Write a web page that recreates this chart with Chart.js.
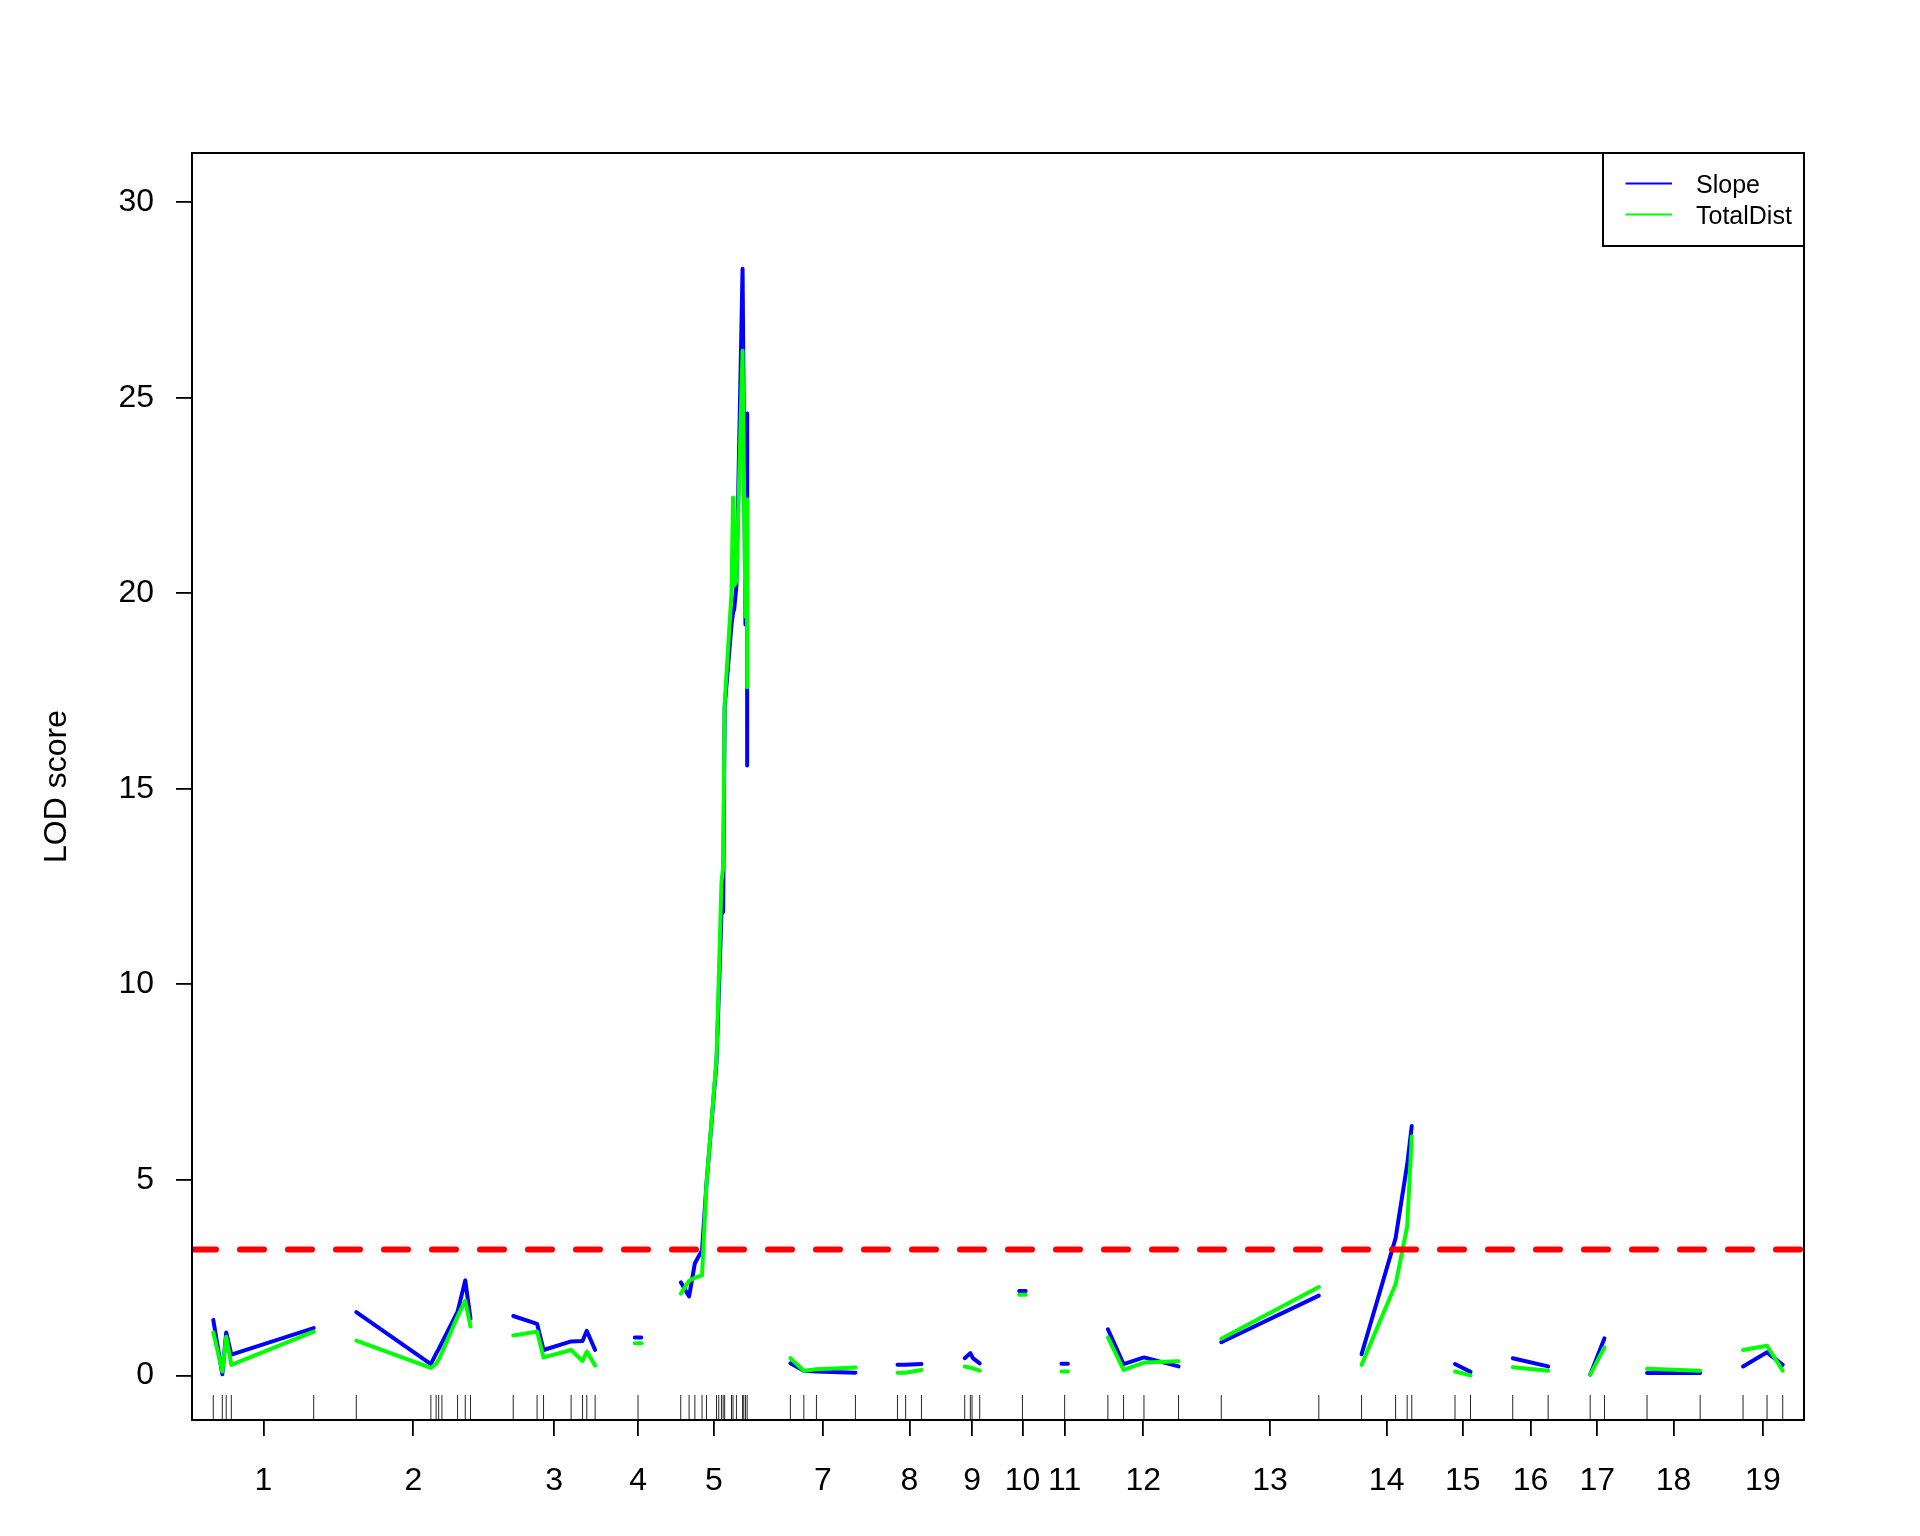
<!DOCTYPE html>
<html>
<head>
<meta charset="utf-8">
<script src="https://cdn.jsdelivr.net/npm/chart.js@4.4.1/dist/chart.umd.min.js"></script>
<style>
  html, body { margin: 0; padding: 0; background: #ffffff; }
  #wrap { width: 1920px; height: 1536px; position: relative; }
</style>
</head>
<body>
<div id="wrap"><canvas id="c" width="1920" height="1536"></canvas></div>
<script>
// ---------------- data (genome-wide cM positions, LOD scores) ----------------
const chromosomes = ['1','2','3','4','5','7','8','9','10','11','12','13','14','15','16','17','18','19'];

const markerPos = [
  [0, 5.3, 7.6, 10.6, 59.0],
  [84.0, 127.8, 130.9, 132.4, 134.3, 143.5, 148.0, 151.1],
  [176.2, 190.2, 194.0, 210.2, 216.9, 219.4, 224.3],
  [249.5],
  [274.6, 279.5, 282.9, 287.1, 289.7, 295.6, 296.9, 298.5, 299.5, 300.4, 304.4, 305.3, 307.3, 310.9, 311.6, 312.6, 313.6],
  [339.0, 346.9, 354.3, 377.2],
  [401.9, 406.7, 416.0],
  [441.4, 444.7, 445.7, 450.2],
  [475.3],
  [500.1],
  [525.5, 534.7, 546.7, 567.0],
  [592.1, 649.4],
  [674.5, 694.5, 701.3, 704.0],
  [729.4, 738.5],
  [763.3, 784.1],
  [808.8, 817.2],
  [842.2, 873.4],
  [898.6, 912.7, 921.9]
];

const linePos = [
  [0, 5.3, 7.6, 10.6, 59.0],
  [84.0, 127.8, 130.9, 132.4, 134.3, 143.5, 148.0, 151.1],
  [176.2, 190.2, 194.0, 210.2, 216.9, 219.4, 224.3],
  [247.6, 251.4],
  [274.6, 279.5, 282.9, 287.1, 289.7, 295.6, 298.5, 299.5, 300.4, 304.4, 305.3, 306.0, 307.3, 310.9, 312.6, 313.55, 313.6],
  [339.0, 346.9, 354.3, 377.2],
  [401.9, 406.7, 416.0],
  [441.4, 444.7, 446.2, 450.2],
  [473.4, 477.2],
  [498.2, 502.0],
  [525.5, 534.7, 546.7, 567.0],
  [592.1, 649.4],
  [674.5, 694.5, 701.3, 704.0],
  [729.4, 738.5],
  [763.3, 784.1],
  [808.8, 817.2],
  [842.2, 873.4],
  [898.6, 912.7, 921.9]
];

const slopeLOD = [
  [1.42, 0.03, 1.10, 0.53, 1.21],
  [1.62, 0.29, 0.56, 0.67, 0.84, 1.63, 2.43, 1.45],
  [1.52, 1.32, 0.65, 0.87, 0.88, 1.14, 0.65],
  [0.97, 0.97],
  [2.38, 2.02, 2.87, 3.2, 4.9, 8.0, 11.8, 11.85, 17.1, 19.2, 19.5, 19.6, 20.2, 28.3, 19.2, 24.6, 15.6],
  [0.31, 0.12, 0.10, 0.07],
  [0.27, 0.27, 0.29],
  [0.44, 0.57, 0.44, 0.31],
  [2.16, 2.16],
  [0.30, 0.30],
  [1.18, 0.29, 0.46, 0.23],
  [0.85, 2.04],
  [0.54, 3.51, 5.39, 6.38],
  [0.29, 0.09],
  [0.44, 0.23],
  [0.02, 0.95],
  [0.06, 0.06],
  [0.23, 0.59, 0.27]
];

const totalDistLOD = [
  [1.10, 0.10, 0.99, 0.27, 1.12],
  [0.89, 0.19, 0.30, 0.40, 0.58, 1.51, 1.91, 1.25],
  [1.02, 1.12, 0.46, 0.65, 0.37, 0.61, 0.25],
  [0.82, 0.82],
  [2.09, 2.42, 2.50, 2.56, 4.9, 8.1, 12.6, 13.0, 17.2, 20.0, 22.45, 20.2, 20.3, 26.2, 19.4, 22.4, 17.6],
  [0.44, 0.12, 0.16, 0.20],
  [0.07, 0.07, 0.14],
  [0.23, 0.20, 0.18, 0.12],
  [2.06, 2.06],
  [0.10, 0.10],
  [0.97, 0.14, 0.33, 0.36],
  [0.94, 2.26],
  [0.27, 2.33, 3.81, 6.11],
  [0.10, 0.0],
  [0.21, 0.12],
  [0.02, 0.72],
  [0.17, 0.12],
  [0.65, 0.76, 0.12]
];

const seriesNames = ['Slope', 'TotalDist'];
const yTicks = [0, 5, 10, 15, 20, 25, 30];
const threshold = 3.22;
const xRange = [-12.5, 934.4];
const yRange = [-1.14, 31.26];
const rugTop = -0.5;

// ---------------- build datasets ----------------
function buildSeries(vals) {
  const out = [];
  linePos.forEach((p, i) => {
    p.forEach((x, j) => out.push({ x: x, y: vals[i][j] }));
    out.push({ x: p[p.length - 1], y: null });
  });
  return out;
}
const rugData = [];
markerPos.flat().forEach(x => {
  rugData.push({ x: x, y: yRange[0] }, { x: x, y: rugTop }, { x: x, y: null });
});
const chrMid = markerPos.map(p => (Math.min(...p) + Math.max(...p)) / 2);

const FONT = '"Liberation Sans", Arial, Helvetica, sans-serif';
Chart.defaults.font.family = FONT;
Chart.defaults.color = '#000';

const framePlugin = {
  id: 'frame',
  afterDraw(chart) {
    const { ctx, chartArea: a } = chart;
    ctx.save();
    ctx.strokeStyle = '#000';
    ctx.lineWidth = 2;
    ctx.strokeRect(a.left, a.top, a.right - a.left, a.bottom - a.top);
    // legend box (R style, inside top-right)
    const w = 201, h = 93;
    const x0 = a.right - w, y0 = a.top;
    ctx.fillStyle = '#fff';
    ctx.fillRect(x0, y0, w, h);
    ctx.strokeRect(x0, y0, w, h);
    const items = [chart.data.datasets[1], chart.data.datasets[2]];
    ctx.font = '25px ' + FONT;
    ctx.textBaseline = 'middle';
    ctx.textAlign = 'left';
    items.forEach((ds, i) => {
      const y = y0 + 30.5 + i * 31;
      ctx.strokeStyle = ds.borderColor;
      ctx.lineWidth = 1.8;
      ctx.beginPath();
      ctx.moveTo(x0 + 22.5, y);
      ctx.lineTo(x0 + 69, y);
      ctx.stroke();
      ctx.fillStyle = '#000';
      ctx.fillText(ds.label, x0 + 93, y + 3);
    });
    ctx.restore();
  }
};

new Chart(document.getElementById('c'), {
  type: 'line',
  data: {
    datasets: [
      { label: 'markers', data: rugData, borderColor: 'rgba(0,0,0,0.85)', borderWidth: 1,
        pointRadius: 0, spanGaps: false, order: 4 },
      { label: seriesNames[0], data: buildSeries(slopeLOD), borderColor: '#0000ff', borderWidth: 4,
        borderCapStyle: 'round', borderJoinStyle: 'round', pointRadius: 0, tension: 0, spanGaps: false, order: 3 },
      { label: seriesNames[1], data: buildSeries(totalDistLOD), borderColor: '#00ff00', borderWidth: 4,
        borderCapStyle: 'round', borderJoinStyle: 'round', pointRadius: 0, tension: 0, spanGaps: false, order: 2 },
      { label: 'threshold', data: [{ x: xRange[0], y: threshold }, { x: xRange[1], y: threshold }],
        borderColor: '#ff0000', borderWidth: 6, borderDash: [24, 24], borderCapStyle: 'round',
        pointRadius: 0, order: 1 }
    ]
  },
  options: {
    responsive: false,
    animation: false,
    devicePixelRatio: 1,
    layout: { padding: { left: 0, top: 153, right: 116, bottom: 0 } },
    plugins: { legend: { display: false }, tooltip: { enabled: false } },
    scales: {
      x: {
        type: 'linear',
        min: xRange[0], max: xRange[1],
        afterFit: s => { s.height = 116; },
        afterBuildTicks: s => { s.ticks = chrMid.map(v => ({ value: v })); },
        ticks: {
          autoSkip: false, maxRotation: 0, padding: 26,
          font: { size: 32 },
          callback: (v, i) => chromosomes[i]
        },
        grid: { drawOnChartArea: false, drawTicks: true, tickLength: 16, color: '#000', lineWidth: 1.8 },
        border: { display: false }
      },
      y: {
        type: 'linear',
        min: yRange[0], max: yRange[1],
        afterFit: s => { s.width = 192; },
        afterBuildTicks: s => { s.ticks = yTicks.map(v => ({ value: v })); },
        ticks: { padding: 22, font: { size: 32 }, callback: v => String(v) },
        grid: { drawOnChartArea: false, drawTicks: true, tickLength: 16, color: '#000', lineWidth: 1.8 },
        border: { display: false },
        title: { display: true, text: 'LOD score', font: { size: 32 }, padding: { top: 38 } }
      }
    }
  },
  plugins: [framePlugin]
});
</script>
</body>
</html>
